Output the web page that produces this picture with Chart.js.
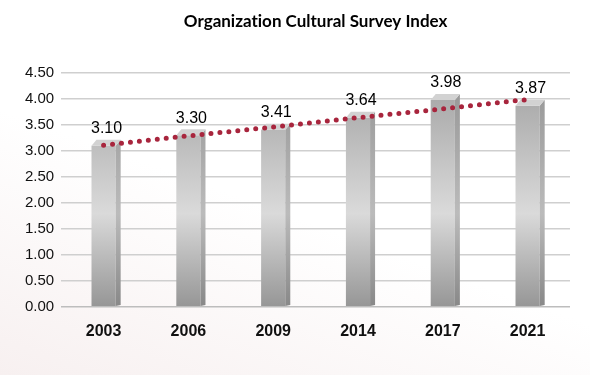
<!DOCTYPE html>
<html>
<head>
<meta charset="utf-8">
<script src="https://cdn.jsdelivr.net/npm/chart.js@4"></script>
<style>
  html, body { margin: 0; padding: 0; }
  body {
    width: 590px; height: 375px; overflow: hidden;
    background: linear-gradient(200deg, #ffffff 55%, #f7f0f0 100%);
  }
  #wrap { width: 590px; height: 375px; }
</style>
</head>
<body>
<div id="wrap"><canvas id="chart-1"></canvas></div>
<script>
const years = ["2003", "2006", "2009", "2014", "2017", "2021"];
const scores = [3.10, 3.30, 3.41, 3.64, 3.98, 3.87];
const trend = [3.11, 3.29, 3.46, 3.64, 3.81, 3.99];
const yTicks = [0, 0.5, 1, 1.5, 2, 2.5, 3, 3.5, 4, 4.5];

const depth = 5;

function frontGradient(context) {
  const area = context.chart.chartArea;
  if (!area) return "#bbbbbb";
  const g = context.chart.ctx.createLinearGradient(0, area.top, 0, area.bottom);
  g.addColorStop(0, "#a0a0a0");
  g.addColorStop(0.6, "#dadada");
  g.addColorStop(1, "#969696");
  return g;
}

// side face, top cap and value labels for the bars
const barExtras = {
  id: "barExtras",
  afterDatasetDraw(chart, args) {
    if (args.index !== 0) return;
    const ctx = chart.ctx;
    const area = chart.chartArea;
    const side = ctx.createLinearGradient(0, area.top, 0, area.bottom);
    side.addColorStop(0, "#939393");
    side.addColorStop(0.6, "#bbbbbb");
    side.addColorStop(1, "#888888");
    ctx.save();
    args.meta.data.forEach((bar, i) => {
      const left = bar.x - bar.width / 2;
      const right = bar.x + bar.width / 2;
      const top = bar.y;
      const base = bar.base;
      ctx.fillStyle = side;
      ctx.beginPath();
      ctx.moveTo(right, top);
      ctx.lineTo(right + depth, top - depth - 1);
      ctx.lineTo(right + depth, base - 1);
      ctx.lineTo(right, base);
      ctx.closePath();
      ctx.fill();
      ctx.fillStyle = "#d2d2d2";
      ctx.beginPath();
      ctx.moveTo(left, top);
      ctx.lineTo(left + depth, top - depth - 1);
      ctx.lineTo(right + depth, top - depth - 1);
      ctx.lineTo(right, top);
      ctx.closePath();
      ctx.fill();
    });
    ctx.restore();
  },
  afterDatasetsDraw(chart) {
    const ctx = chart.ctx;
    const meta = chart.getDatasetMeta(0);
    ctx.save();
    ctx.fillStyle = "#000000";
    ctx.font = "16px 'Liberation Sans', Arial, sans-serif";
    ctx.textAlign = "center";
    ctx.textBaseline = "bottom";
    meta.data.forEach((bar, i) => {
      ctx.fillText(scores[i].toFixed(2), bar.x + 3, bar.y - 9);
    });
    // title centred over the plot area (ZWNJ keeps Lato from using its "ti" ligature)
    const area = chart.chartArea;
    ctx.font = "bold 17px Lato, 'Open Sans', sans-serif";
    ctx.textBaseline = "middle";
    ctx.fillText("Organizat\u200Cion Cultural Survey Index", (area.left + area.right) / 2, 22);
    ctx.restore();
  }
};

new Chart(document.getElementById("chart-1"), {
  type: "bar",
  data: {
    labels: years,
    datasets: [
      {
        label: "Index",
        data: scores,
        backgroundColor: frontGradient,
        barPercentage: 0.285,
        categoryPercentage: 1,
        order: 2,
      },
      {
        type: "line",
        label: "Trend",
        data: trend,
        borderColor: "#a8253d",
        borderWidth: 5,
        borderDash: [0, 9],
        borderCapStyle: "round",
        pointRadius: 0,
        fill: false,
        tension: 0,
        order: 1,
      },
    ],
  },
  options: {
    responsive: true,
    maintainAspectRatio: false,
    animation: false,
    layout: {
      padding: { top: 73, right: 20, bottom: 27, left: 18 },
    },
    scales: {
      x: {
        grid: { display: false },
        border: { display: false },
        ticks: {
          color: "#111111",
          padding: 7,
          font: { family: "'Liberation Sans', Arial, sans-serif", size: 16, weight: "bold" },
        },
      },
      y: {
        min: 0,
        max: 4.5,
        afterBuildTicks: (axis) => {
          axis.ticks = yTicks.map((v) => ({ value: v }));
        },
        grid: {
          color: (c) => (c.tick && c.tick.value === 0 ? "#bdbdbd" : "#cfcfcf"),
          lineWidth: 1.5,
          drawTicks: false,
        },
        border: { display: false },
        ticks: {
          color: "#111111",
          padding: 7,
          callback: (v) => Number(v).toFixed(2),
          font: { family: "'Liberation Sans', Arial, sans-serif", size: 15 },
        },
      },
    },
    plugins: {
      legend: { display: false },
      tooltip: { enabled: false },
      title: { display: false },
    },
  },
  plugins: [barExtras],
});
</script>
</body>
</html>
